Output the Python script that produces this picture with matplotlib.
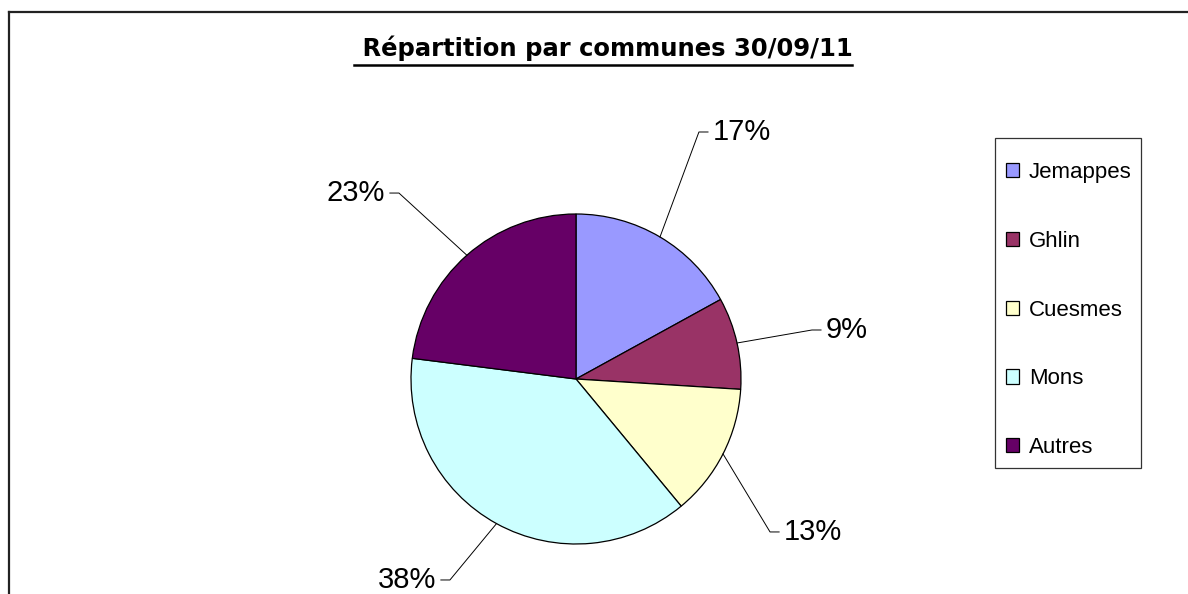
import numpy as np
import matplotlib
matplotlib.use("Agg")
import matplotlib.pyplot as plt
from matplotlib.lines import Line2D
from matplotlib.patches import Patch, Rectangle

# répartition par communes au 30/09/11
communes = ['Jemappes', 'Ghlin', 'Cuesmes', 'Mons', 'Autres']
parts = [17, 9, 13, 38, 23]
couleurs = ['#9999FF', '#993366', '#FFFFCC', '#CCFFFF', '#660066']

# coude des lignes de rappel (unités du rayon), dans l'ordre des communes
coudes = [(0.745, 1.497), (1.43, 0.297), (1.176, -0.927), (-0.764, -1.218), (-1.073, 1.127)]

plt.rcParams['font.family'] = ['Liberation Sans', 'DejaVu Sans']

W, H = 1188, 594
fig = plt.figure(figsize=(W / 100, H / 100), dpi=100)

# cadre extérieur (haut et gauche visibles)
fig.add_artist(Line2D([9 / W, 1.0], [1 - 12 / H, 1 - 12 / H], color='#222222', lw=1.6,
                      transform=fig.transFigure))
fig.add_artist(Line2D([9 / W, 9 / W], [1 - 12 / H, 0.0], color='#222222', lw=1.6,
                      transform=fig.transFigure))

# camembert : centre (576, 379) px, rayon 165 px
cx, cy, r = 576, 379, 165
ax = fig.add_axes([(cx - r) / W, 1 - (cy + r) / H, 2 * r / W, 2 * r / H])
wedges, _ = ax.pie(parts, colors=couleurs, startangle=90, counterclock=False,
                   wedgeprops=dict(edgecolor='black', linewidth=0.9))
ax.set_xlim(-1, 1)
ax.set_ylim(-1, 1)
ax.set_aspect('equal')
ax.axis('off')

# étiquettes avec lignes de rappel
for w, v, (ex, ey) in zip(wedges, parts, coudes):
    mid = np.deg2rad((w.theta1 + w.theta2) / 2)
    px, py = np.cos(mid), np.sin(mid)
    sens = 1 if ex > 0 else -1
    tick = 0.055 * sens
    ax.plot([px, ex, ex + tick], [py, ey, ey], color='black', lw=0.7, clip_on=False)
    ax.text(ex + tick + 0.03 * sens, ey, f'{v}%', fontsize=21,
            ha='left' if sens > 0 else 'right', va='center')

# titre souligné
titre = fig.text(603 / W, 1 - 56 / H, ' Répartition par communes 30/09/11',
                 fontsize=17.5, fontweight='bold', family=['DejaVu Sans'],
                 ha='center', va='baseline')
fig.canvas.draw()
bb = titre.get_window_extent()
fig.add_artist(Line2D([bb.x0 / W, bb.x1 / W], [1 - 64.5 / H, 1 - 64.5 / H],
                      color='black', lw=1.8, transform=fig.transFigure))

# légende : cadre dessiné à part, entrées sans cadre
fig.add_artist(Rectangle((995 / W, 1 - 468 / H), 146 / W, 330 / H, fill=False,
                         edgecolor='#333333', linewidth=0.9, transform=fig.transFigure))
poignees = [Patch(facecolor=c, edgecolor='black', linewidth=0.9) for c in couleurs]
leg = fig.legend(poignees, communes, loc='upper left',
                 bbox_to_anchor=(1006 / W, 1 - 162 / H), fontsize=16,
                 frameon=False,
                 handlelength=0.6, handleheight=0.6, handletextpad=0.42,
                 labelspacing=2.15, borderpad=0, borderaxespad=0)

fig.savefig('out.png', dpi=100, facecolor='white')
